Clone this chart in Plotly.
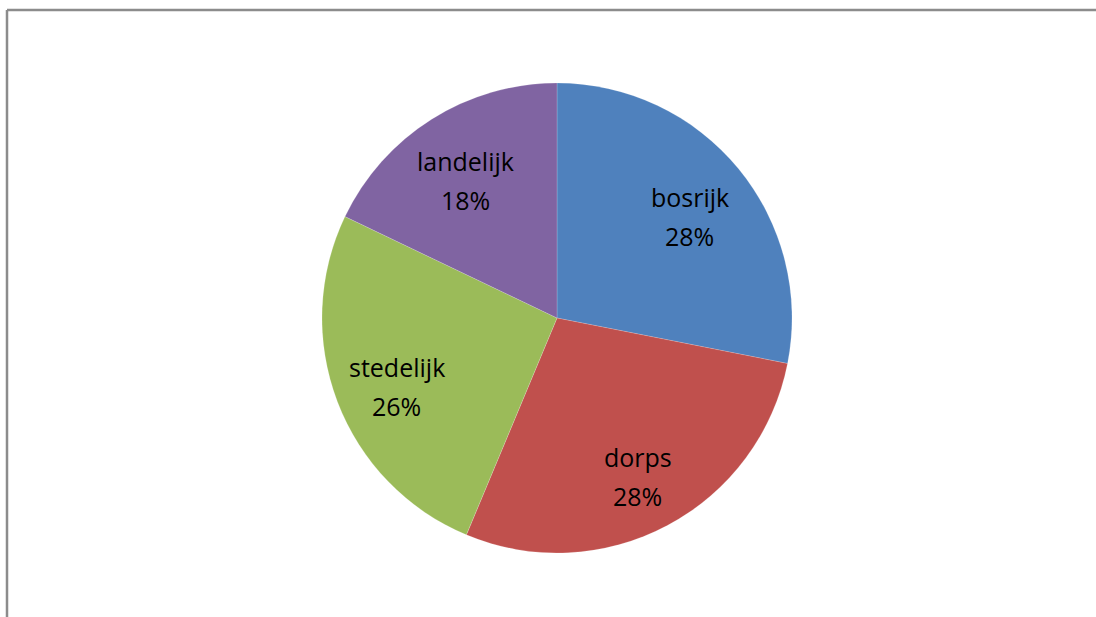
import math
import plotly.graph_objects as go

labels = ["bosrijk", "dorps", "stedelijk", "landelijk"]
values = [28.1, 28.2, 25.8, 17.9]
colors = ["#4F81BD", "#C0504D", "#9BBB59", "#8064A2"]

W, H = 1096, 617
cx, cy, R = 557, 318, 235

fig = go.Figure(go.Pie(
    labels=labels, values=values, sort=False, direction="clockwise", rotation=0,
    marker=dict(colors=colors, line=dict(color="rgba(255,255,255,0.35)", width=0.5)),
    textinfo="none", hoverinfo="label+percent", showlegend=False,
    domain=dict(x=[(cx - R) / W, (cx + R) / W], y=[1 - (cy + R) / H, 1 - (cy - R) / H]),
))

total = sum(values)
cum = 0
annotations = []
rf = 0.73
for lab, v in zip(labels, values):
    mid = (cum + v / 2) / total * 2 * math.pi
    cum += v
    px = cx + rf * R * math.sin(mid)
    py = cy - rf * R * math.cos(mid)
    pct = f"{round(v / total * 100)}%"
    for txt, shift in ((lab, 12), (pct, -27)):
        annotations.append(dict(
            x=px / W, y=1 - py / H, xref="paper", yref="paper", text=txt,
            showarrow=False, yshift=shift, xanchor="center", yanchor="middle",
            font=dict(family="Open Sans", size=25, color="black"),
        ))

fig.update_layout(
    width=W, height=H, margin=dict(l=0, r=0, t=0, b=0),
    paper_bgcolor="white", plot_bgcolor="white",
    annotations=annotations,
    shapes=[
        dict(type="line", xref="paper", yref="paper", x0=7 / W, x1=1, y0=1 - 10 / H, y1=1 - 10 / H,
             line=dict(color="#8C8C8C", width=2.5)),
        dict(type="line", xref="paper", yref="paper", x0=7 / W, x1=7 / W, y0=0, y1=1 - 10 / H,
             line=dict(color="#8C8C8C", width=2.5)),
    ],
)
fig.write_html("out.html", config={"displayModeBar": False},
               post_script="document.body.style.margin='0';document.body.style.overflow='hidden';")
